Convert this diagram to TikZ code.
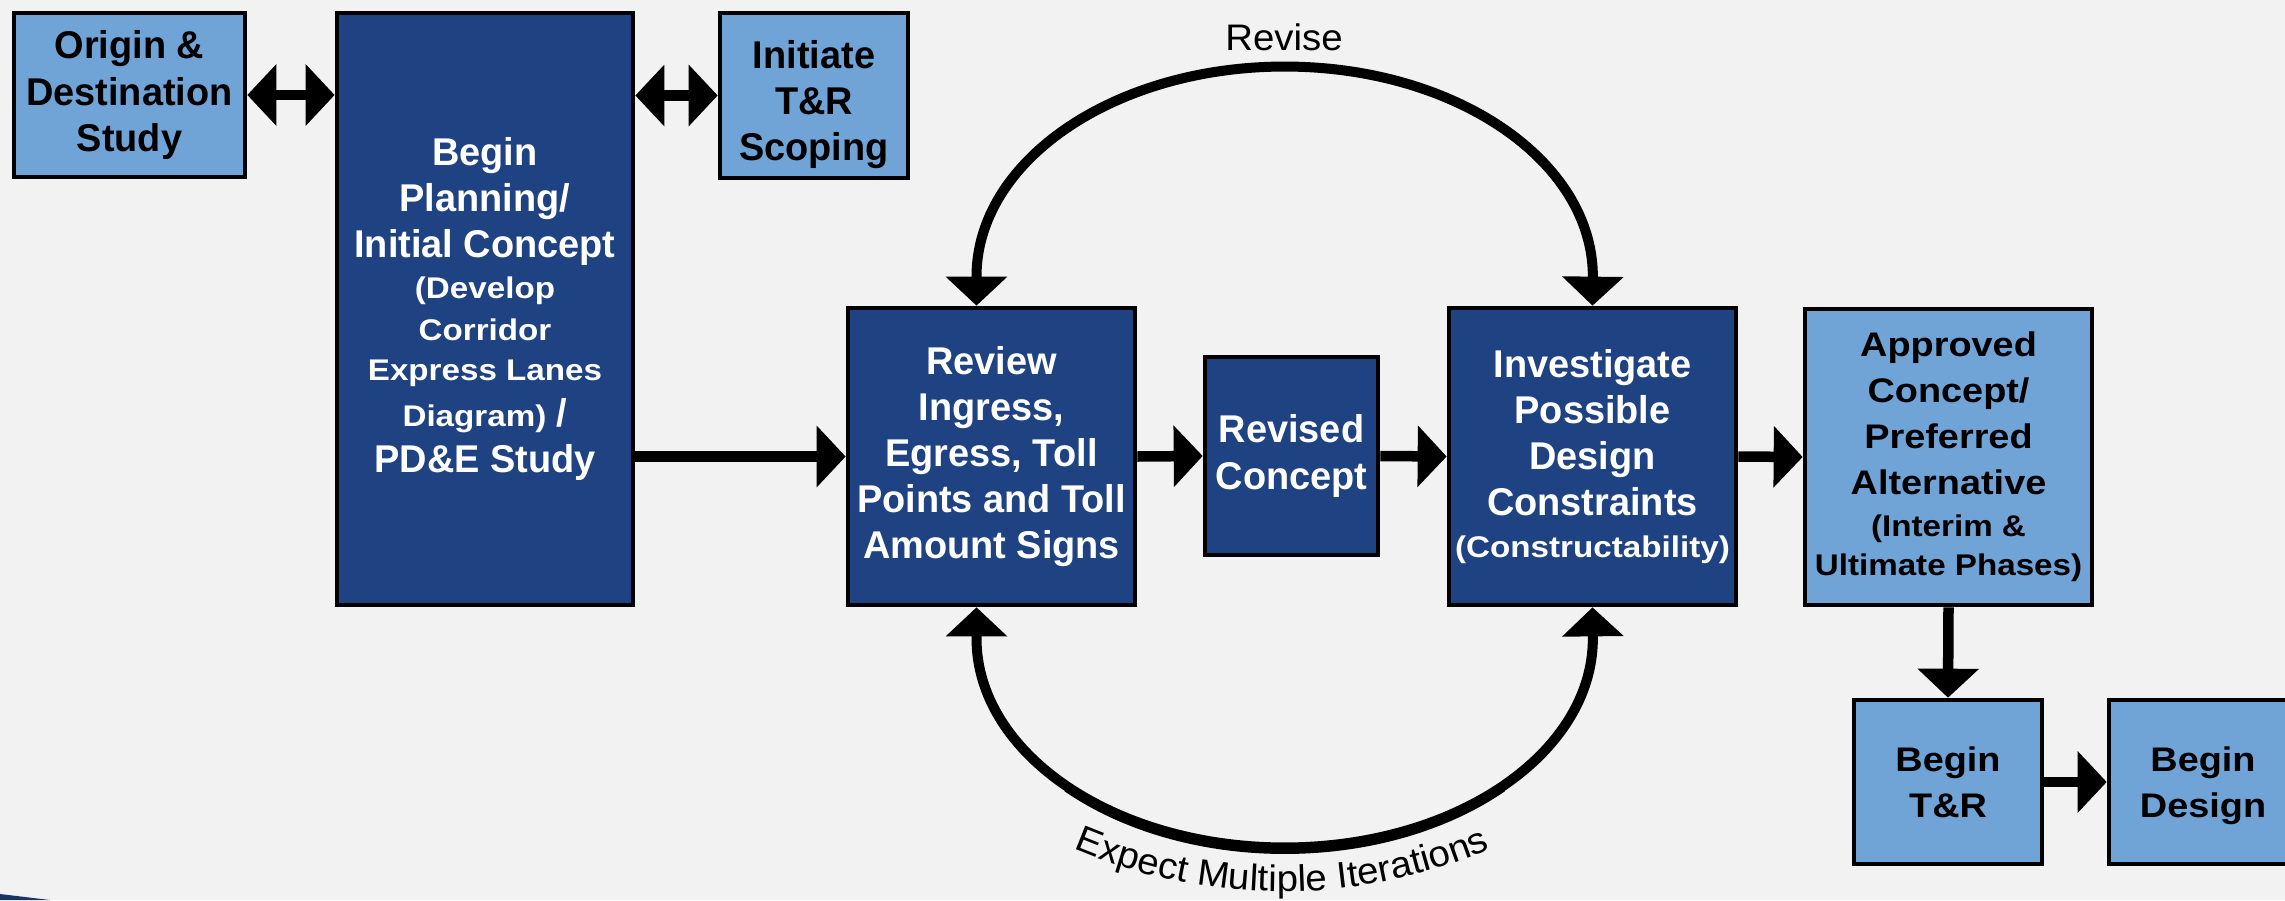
\documentclass[tikz,border=0pt]{standalone}
\usepackage{fontspec}
\setmainfont{Liberation Sans}
\usetikzlibrary{arrows.meta,calc,decorations.text}

% Faces used in the chart
\newfontfamily\dgtallfamily[FakeStretch=0.98]{Liberation Sans}
\newfontfamily\dgwidefamily[FakeStretch=1.11]{Liberation Sans}
\newfontfamily\dgplainfamily[FakeStretch=1.04]{Liberation Sans}
\newcommand\dgbig{\dgtallfamily\bfseries\fontsize{11}{13.1}\selectfont}
\newcommand\dgsmall{\dgwidefamily\bfseries\fontsize{8.5}{11.4}\selectfont}
\newcommand\dgwide{\dgwidefamily\bfseries\fontsize{9.7}{13.1}\selectfont}
\newcommand\dgnote{\dgplainfamily\fontsize{10.5}{12}\selectfont}

\definecolor{boxnavy}{HTML}{1F4282}
\definecolor{boxsky}{HTML}{70A3D6}
\definecolor{pagebg}{HTML}{F2F2F2}
\definecolor{cornernavy}{HTML}{1B3561}

\tikzset{
  stagebox/.style={draw=black, line width=0.045cm, inner sep=0pt, align=center},
  darkbox/.style={stagebox, fill=boxnavy, text=white, font=\dgbig},
  lightbox/.style={stagebox, fill=boxsky, text=black, font=\dgbig},
  widebox/.style={stagebox, fill=boxsky, text=black, font=\dgwide},
  headtip/.tip={Triangle[length=0.29cm,width=0.6cm]},
  conn/.style={line width=0.105cm, -headtip},
  biconn/.style={line width=0.105cm, headtip-headtip},
  loopconn/.style={line width=0.1cm, headtip-headtip},
  note/.style={font=\dgnote, inner sep=0pt}
}

\begin{document}
\begin{tikzpicture}[x=0.01cm, y=-0.01cm]
  % page
  \fill[pagebg] (0,0) rectangle (2285,900);
  \useasboundingbox (0,0) rectangle (2285,900);
  \fill[cornernavy] (0,894) -- (50,900) -- (0,900) -- cycle;

  % stages
  \node[lightbox, minimum width=2.31cm, minimum height=1.64cm] (origin) at (129.5,95)
    {Origin \&\\Destination\\Study};
  \node[darkbox, minimum width=2.96cm, minimum height=5.92cm] (begin) at (485,309)
    {Begin\\Planning/\\Initial Concept\\[-1.6pt]{\dgsmall (Develop}\\[-1.2pt]%
     {\dgsmall Corridor}\\[-1.75pt]{\dgsmall Express Lanes}\\{\dgsmall Diagram)} /\\PD\&E Study};
  \node[lightbox, minimum width=1.88cm, minimum height=1.65cm] (initiate) at (814,95.5)
    {\rule{0pt}{0.46cm}Initiate\\T\&R\\Scoping};
  \node[darkbox, minimum width=2.87cm, minimum height=2.97cm] (review) at (991.5,456.5)
    {Review\\Ingress,\\Egress, Toll\\Points and Toll\\Amount Signs};
  \node[darkbox, minimum width=1.73cm, minimum height=1.98cm] (revised) at (1291.5,456)
    {Revised\\Concept};
  \node[darkbox, minimum width=2.87cm, minimum height=2.97cm] (investigate) at (1592.5,456.5)
    {Investigate\\Possible\\Design\\Constraints\\[-1.1pt]{\dgsmall (Constructability)}};
  \node[widebox, minimum width=2.87cm, minimum height=2.96cm] (approved) at (1948.5,457)
    {Approved\\Concept/\\Preferred\\Alternative\\[-1.3pt]{\dgsmall (Interim \&}\\[-1.8pt]%
     {\dgsmall Ultimate Phases)}};
  \node[widebox, minimum width=1.88cm, minimum height=1.64cm] (begintr) at (1948,782)
    {Begin\\T\&R};
  \node[widebox, minimum width=1.88cm, minimum height=1.64cm] (begindesign) at (2203,782)
    {Begin\\Desi\smash{g}n};

  % straight connectors
  \draw[biconn] (origin.east) -- (origin.east -| begin.west);
  \draw[biconn] (initiate.west -| begin.east) -- (initiate.west);
  \draw[conn] (review.west -| begin.east) -- (review.west);
  \draw[conn] (review.east) -- (revised.west);
  \draw[conn] (revised.east) -- (investigate.west);
  \draw[conn] (investigate.east) -- (approved.west);
  \draw[conn] (approved.south) -- (begintr.north);
  \draw[conn] (begintr.east) -- (begindesign.west);

  % iteration loops between review and investigation
  \coordinate (revtop) at ([xshift=-0.15cm]review.north);
  \coordinate (revbot) at ([xshift=-0.15cm]review.south);
  \draw[loopconn] (revtop) -- ++(0,-29)
    arc[start angle=180, end angle=0, x radius=3.08cm, y radius=2.1cm]
    -- (investigate.north);
  \draw[loopconn] (revbot) -- ++(0,31)
    arc[start angle=180, end angle=360, x radius=3.08cm, y radius=2.09cm]
    -- (investigate.south);
  % the lower loop swells slightly towards its lowest point
  \draw[line width=0.08cm] ($(revbot)+(0,31)+(3.08cm,0)+(225:3.08cm and 2.115cm)$)
    arc[start angle=225, end angle=315, x radius=3.08cm, y radius=2.115cm];

  % loop labels
  \node[note, anchor=base] (revise) at (1284,50) {Revise};
  \coordinate (textcentre) at (1282,357);
  \path[decorate, decoration={text along path, text align=center,
      text={|\dgnote|Expect Multiple Iterations}}]
    ($(textcentre)+(200:5.34cm)$) arc[start angle=200, end angle=340, radius=5.34cm];
\end{tikzpicture}
\end{document}
